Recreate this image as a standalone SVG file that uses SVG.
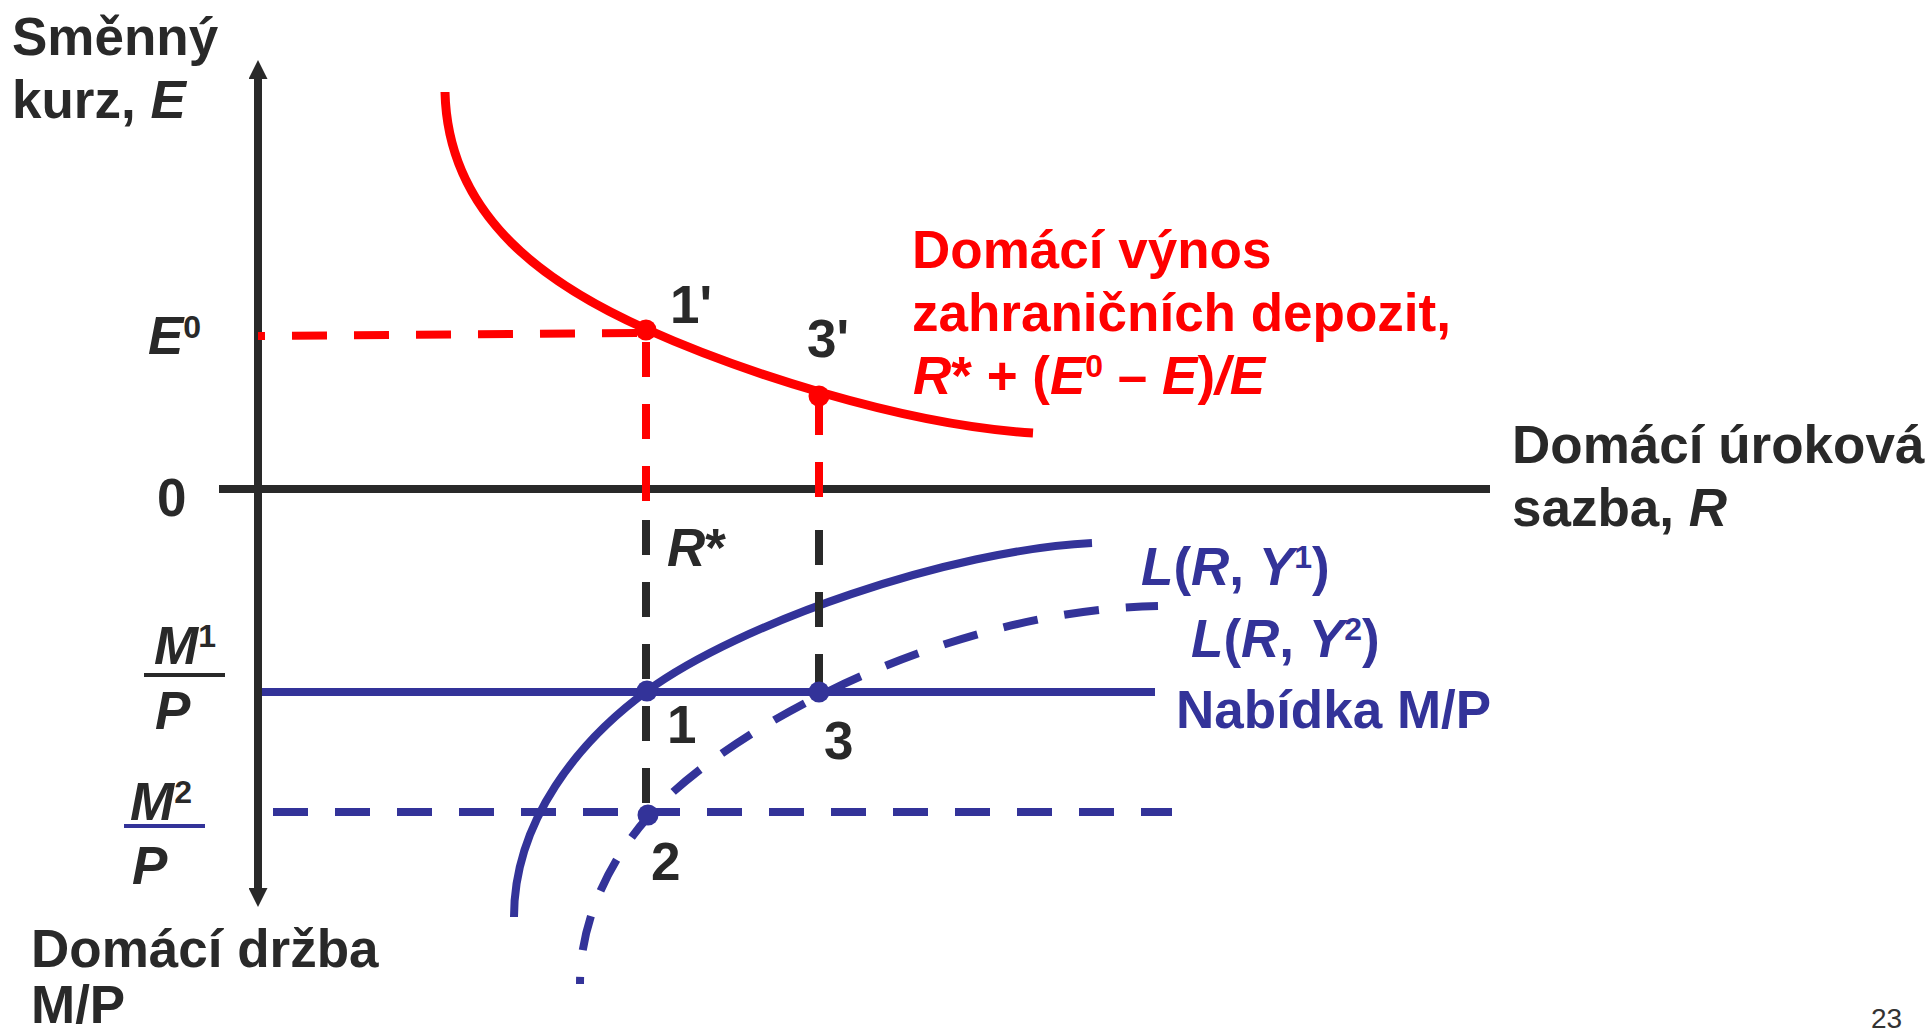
<svg xmlns="http://www.w3.org/2000/svg" width="1928" height="1036" viewBox="0 0 1928 1036">
<style>
.t{font-family:"Liberation Sans",Arial,sans-serif;font-weight:bold;font-size:53px;fill:#292929}
.red{fill:#ff0000}
.blue{fill:#333399}
.i{font-style:italic}
.sup{font-size:32px}
.ax{stroke:#292929;stroke-width:8;fill:none}
.dash{stroke-width:8;fill:none;stroke-dasharray:35 27}
.rc{stroke:#ff0000;stroke-width:9;fill:none}
.bc{stroke:#333399;stroke-width:8;fill:none}
.rd{fill:#ff0000}
.bd{fill:#333399}
</style>
<defs>
<marker id="arrow" markerUnits="userSpaceOnUse" markerWidth="19" markerHeight="19" viewBox="0 0 19 19" refX="1" refY="9.5" orient="auto-start-reverse">
<path d="M0,0 L19,9.5 L0,19 z" fill="#292929"/>
</marker>
</defs>
<rect width="1928" height="1036" fill="#ffffff"/>

<g id="axes">
<line class="ax" x1="258" y1="78" x2="258" y2="889" marker-start="url(#arrow)" marker-end="url(#arrow)"/>
<line class="ax" x1="219" y1="489" x2="1490" y2="489"/>
</g>

<g id="curves">
<path id="curve-foreign-return" class="rc" d="M445,92 C448,220 552,287 646,329 C735,369 900,425 1033,433"/>
<path id="curve-L1" class="bc" d="M514,917 C514,820 580,740 647,691 C740,623 950,550 1092,543"/>
<path id="curve-L2" class="bc" style="stroke-dasharray:35 27;stroke-dashoffset:28" d="M580,984 C580,920 610,860 648,817 C730,725 950,610 1158,606"/>
<line id="supply-M1" class="bc" x1="262" y1="692" x2="1155" y2="692"/>
<line id="supply-M2" class="bc" style="stroke-dasharray:35 27" x1="273" y1="812" x2="1172" y2="812"/>
</g>

<g id="connectors">
<line class="dash" stroke="#ff0000" style="stroke-dashoffset:28" x1="258" y1="336" x2="641" y2="333"/>
<line class="dash" stroke="#ff0000" x1="646" y1="342" x2="646" y2="503"/>
<line class="dash" stroke="#292929" x1="646" y1="520" x2="646" y2="803"/>
<line class="dash" stroke="#ff0000" x1="819" y1="400" x2="819" y2="497"/>
<line class="dash" stroke="#292929" x1="819" y1="530" x2="819" y2="689"/>
</g>

<g id="point-1p"><circle class="rd" cx="646" cy="330" r="10.5"/><text class="t" x="670" y="323">1'</text></g>
<g id="point-3p"><circle class="rd" cx="819" cy="396" r="10.5"/><text class="t" x="807" y="357">3'</text></g>
<g id="point-1"><circle class="bd" cx="647" cy="691" r="10.5"/><text class="t" x="667" y="743">1</text></g>
<g id="point-3"><circle class="bd" cx="819" cy="692" r="10.5"/><text class="t" x="824" y="759">3</text></g>
<g id="point-2"><circle class="bd" cx="648" cy="815" r="10.5"/><text class="t" x="651" y="880">2</text></g>

<g id="label-y-axis">
<text class="t" x="12" y="55">Směnný</text>
<text class="t" x="12" y="118">kurz, <tspan class="i">E</tspan></text>
</g>
<g id="label-E0"><text class="t" x="148" y="354"><tspan class="i">E</tspan><tspan class="sup" dy="-16">0</tspan></text></g>
<g id="label-zero"><text class="t" x="157" y="516">0</text></g>
<g id="label-Rstar"><text class="t" x="667" y="566"><tspan class="i">R</tspan>*</text></g>
<g id="label-M1P">
<text class="t" x="154" y="664"><tspan class="i">M</tspan><tspan class="sup" dy="-17">1</tspan></text>
<rect x="144" y="673" width="81" height="4" fill="#292929"/>
<text class="t i" x="155" y="729">P</text>
</g>
<g id="label-M2P">
<text class="t" x="130" y="820"><tspan class="i">M</tspan><tspan class="sup" dy="-17">2</tspan></text>
<rect x="124" y="824" width="81" height="4" fill="#333399"/>
<text class="t i" x="132" y="884">P</text>
</g>
<g id="label-x-holding">
<text class="t" x="31" y="967">Domácí držba</text>
<text class="t" x="31" y="1023">M/P</text>
</g>
<g id="label-foreign-return">
<text class="t red" x="912" y="268">Domácí výnos</text>
<text class="t red" x="912" y="331">zahraničních depozit,</text>
<text class="t red" x="913" y="394"><tspan class="i">R</tspan>* + (<tspan class="i">E</tspan><tspan class="sup" dy="-17">0</tspan><tspan dy="17"> – </tspan><tspan class="i">E</tspan>)<tspan class="i">/E</tspan></text>
</g>
<g id="label-x-axis">
<text class="t" x="1512" y="463">Domácí úroková</text>
<text class="t" x="1512" y="526">sazba, <tspan class="i">R</tspan></text>
</g>
<g id="label-L1"><text class="t blue" x="1141" y="585"><tspan class="i">L</tspan>(<tspan class="i">R</tspan>, <tspan class="i">Y</tspan><tspan class="sup" dy="-17">1</tspan><tspan dy="17">)</tspan></text></g>
<g id="label-L2"><text class="t blue" x="1191" y="657"><tspan class="i">L</tspan>(<tspan class="i">R</tspan>, <tspan class="i">Y</tspan><tspan class="sup" dy="-17">2</tspan><tspan dy="17">)</tspan></text></g>
<g id="label-supply"><text class="t blue" x="1176" y="728">Nabídka M/P</text></g>
<g id="page-number"><text x="1871" y="1028" style="font-family:'Liberation Sans',Arial,sans-serif;font-size:28px;fill:#333333">23</text></g>
</svg>
